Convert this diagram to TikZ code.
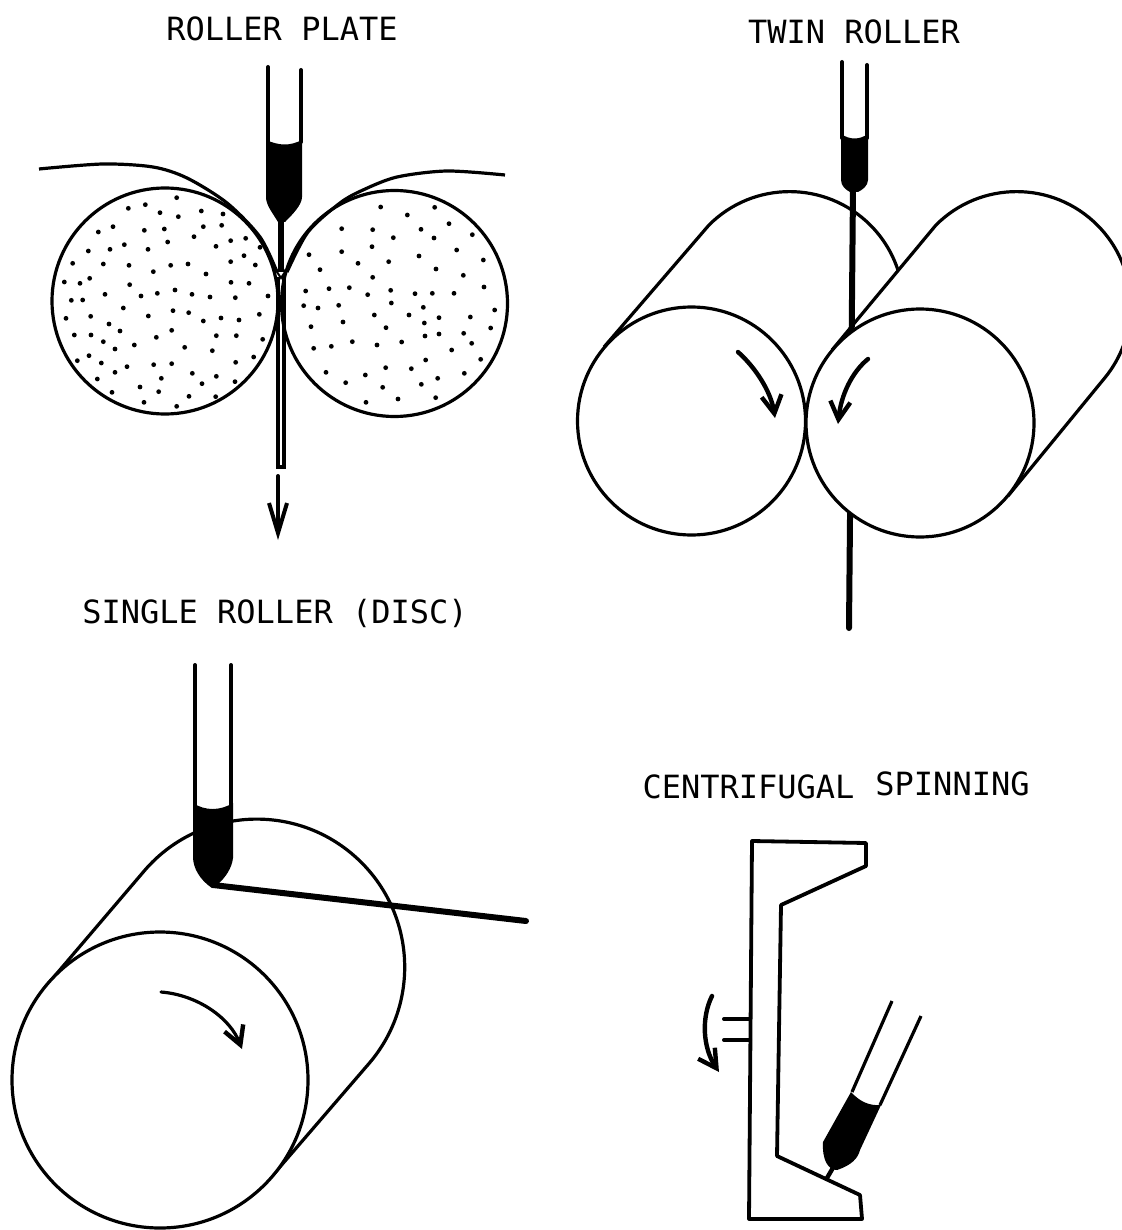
\documentclass[tikz,border=0pt]{standalone}
\usepackage{fontspec}
\setmainfont{DejaVu Sans Mono}
\usetikzlibrary{arrows.meta}
\tikzset{
  title/.style={inner sep=0pt,font=\fontsize{16}{16}\selectfont},
  rollerline/.style={line width=1.6pt,line join=round},
  tubeline/.style={line width=2pt,line cap=round},
  stripline/.style={line width=3pt,line cap=round},
  spinarrow/.style={line width=2.2pt,line cap=round,-{Straight Barb[length=9pt,width=10pt,line width=2.2pt]}},
}
\begin{document}
\begin{tikzpicture}[x=0.5pt,y=-0.5pt]
  \useasboundingbox (0,0) rectangle (1122,1230);

  % titles
  \node[title] (plateTitle) at (282,29) {ROLLER PLATE};
  \node[title] (twinTitle) at (854,32) {TWIN ROLLER};
  \node[title] (singleTitle) at (275,613) {SINGLE ROLLER (DISC)};
  \node[title] (centriTitle) at (748.5,787) {CENTRIFUGAL};
  \node[title] (spinTitle) at (952.5,784) {SPINNING};

  % roller plate
  \draw[rollerline] (165,301) circle (113);
  \draw[rollerline] (394.5,303.5) circle (113);
  \foreach \x/\y in {470/443,325/475,376/464,420/488,475/500,544/483,609/492,235/546,279/530,373/541,
    433/537,550/530,605/526,522/560,443/576,632/572,677/565,205/603,270/598,313/584,384/598,588/589,
    720/592,158/640,250/642,327/646,452/646,504/642,632/635,672/617,706/645,400/665,558/672,133/696,
    180/700,209/685,329/704,633/697,687/700,154/751,188/750,255/733,363/738,412/730,465/720,516/733,
    570/741,646/743,744/738,310/774,459/782,506/788,138/805,212/799,385/798,603/804,657/810,718/793,
    550/813,267/822,300/843,455/841,163/855,213/855,409/862,589/857,649/857,728/868,250/875,343/885,
    285/897,494/892,577/902,172/932,207/917,244/939,321/950,401/944,455/941,647/937,701/921,285/967,
    232/987,517/970,424/985,589/979,546/1001,645/995,360/1011,276/1027,416/1025,507/1039,587/1040,
    372/1057,470/1069,
    1082/471,1244/472,1162/495,1287/521,965/536,1058/539,1203/538,1357/554,1120/563,1242/564,1056/590,
    965/605,867/614,1310/600,1197/618,1390/630,1014/640,1106/635,900/659,1248/657,1330/676,1058/682,
    857/723,927/716,988/713,1043/734,1112/721,1185/731,1237/730,1302/730,1392/711,851/767,894/774,
    956/766,1114/759,1210/772,1424/780,1063/795,1167/795,1257/803,1351/801,969/816,1213/819,873/830,
    1098/833,1412/834,1257/852,1331/850,1215/858,997/875,1071/885,1145/876,1355/880,881/895,934/889,
    1295/900,1217/930,1382/928,1097/953,1174/956,918/967,1036/975,1333/970,1253/985,977/998,1088/1012,
    1204/1003,1134/1047,1247/1043,1038/1057}
    \fill (\x/3+20,\y/3+50) circle (2.4);
  \draw[rollerline] plot[smooth] coordinates {(39,169) (103,164) (153,167) (187,178) (227,203) (260,237) (277,272)};
  \draw[rollerline] plot[smooth] coordinates {(505,175) (447,171) (397,177) (363,190) (340,203) (308,232) (287,272)};
  \draw[tubeline] (268,67) -- (268,142);
  \draw[tubeline] (301,70) -- (301,142);
  \fill (266,140) .. controls (280,146) and (290,146) .. (302,140) -- (302,197)
    .. controls (302,205) and (292,215) .. (285,222) -- (278,222)
    .. controls (272,212) and (266,205) .. (266,197) -- cycle;
  \draw[line width=3pt] (281,220) -- (281,272);
  \draw[line width=2pt] (277.5,277) -- (277.5,467) -- (283.5,467) -- (283.5,277);
  \draw[line width=1pt] (277,272) -- (281,266) -- (285,272) -- (281,278) -- cycle;
  \draw[line width=2pt,line cap=round,-{Straight Barb[length=15pt,width=9pt,line width=2pt]}] (278,476) -- (278,540);

  % twin roller
  \draw[rollerline] (604,347) -- (709,225) arc[start angle=225,end angle=342,radius=114];
  \draw[rollerline,fill=white] (832,350) -- (936,225) arc[start angle=225,end angle=400,radius=114] -- (1008,496);
  \draw[stripline] (853,188) -- (849,628);
  \draw[rollerline,fill=white] (691.5,421) circle (114);
  \draw[rollerline,fill=white] (920,423) circle (114);
  \draw[spinarrow] (738,352) .. controls (756,368) and (771,392) .. (775,418);
  \draw[spinarrow] (868,359) .. controls (852,372) and (841,395) .. (838,424);
  \draw[tubeline] (842,62) -- (842,138);
  \draw[tubeline] (867,65) -- (867,138);
  \fill (841,134) .. controls (850,140) and (859,140) .. (868,134) -- (868,180)
    .. controls (868,186) and (862,190) .. (858,192) -- (850,192)
    .. controls (846,190) and (841,186) .. (841,180) -- cycle;

  % single roller
  \draw[rollerline,fill=white] (47,985) -- (145,870) arc[start angle=221,end angle=401,radius=148] -- (273,1175);
  \draw[stripline] (213,885) -- (526,921);
  \draw[rollerline,fill=white] (160,1080) circle (148);
  \draw[spinarrow,line width=1.6pt] (161,992) .. controls (198,995) and (230,1018) .. (242,1049);
  \draw[tubeline] (195,665) -- (195,805);
  \draw[tubeline] (231,665) -- (231,805);
  \fill (193,803) .. controls (205,811) and (220,811) .. (233,803) -- (233,858)
    .. controls (232,868) and (225,878) .. (218,884) -- (212,888)
    .. controls (200,880) and (193,868) .. (193,857) -- cycle;

  % centrifugal spinning
  \draw[rollerline,line width=1.9pt] (752,841) -- (866,843) -- (866,866) -- (781,905) -- (777,1156)
    -- (860,1195) -- (862,1219) -- (749,1219) -- cycle;
  \draw[tubeline] (724,1019) -- (750,1019);
  \draw[tubeline] (724,1040) -- (750,1040);
  \draw[spinarrow] (712,996) .. controls (701,1018) and (703,1048) .. (719,1072);
  \draw[rollerline] (892,1001) -- (852,1092);
  \draw[rollerline] (921,1016) -- (880,1105);
  \fill (851,1092) .. controls (860,1102) and (870,1106) .. (881,1105) -- (860,1150)
    .. controls (858,1158) and (852,1165) .. (837,1170)
    .. controls (828,1170) and (822,1160) .. (823,1142) -- cycle;
  \draw[line width=2.2pt] (834,1166) -- (827,1178);
\end{tikzpicture}
\end{document}
